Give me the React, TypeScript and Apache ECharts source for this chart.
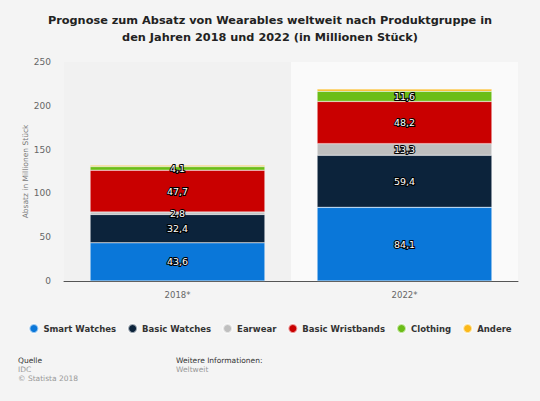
import React, { useEffect, useRef } from "react";
import * as echarts from "echarts";

const categories = ["2018*", "2022*"];
const smartWatches = [43.6, 84.1];
const basicWatches = [32.4, 59.4];
const earwear = [2.8, 13.3];
const basicWristbands = [47.7, 48.2];
const clothing = [4.1, 11.6];
const andere = [1.5, 2.5];
const yTicks = [0, 50, 100, 150, 200, 250];

const seriesDefs = [
  { name: "Smart Watches", data: smartWatches, color: "#0a77d9", label: true },
  { name: "Basic Watches", data: basicWatches, color: "#0c233b", label: true },
  { name: "Earwear", data: earwear, color: "#bfbfbf", label: true },
  { name: "Basic Wristbands", data: basicWristbands, color: "#c90000", label: true },
  { name: "Clothing", data: clothing, color: "#6bbd17", label: true },
  { name: "Andere", data: andere, color: "#fbb819", label: false },
];

const FONT = "DejaVu Sans, sans-serif";

export default function App() {
  const ref = useRef<HTMLDivElement>(null);
  useEffect(() => {
    if (!ref.current) return;
    const chart = echarts.init(ref.current, undefined, { renderer: "svg" });
    chart.setOption({
      animation: false,
      backgroundColor: "#f4f4f4",
      textStyle: { fontFamily: FONT },
      title: {
        text: "Prognose zum Absatz von Wearables weltweit nach Produktgruppe in\nden Jahren 2018 und 2022 (in Millionen Stück)",
        left: "center",
        top: 7,
        textStyle: { fontFamily: FONT, fontSize: 11.3, fontWeight: "bold", color: "#222", lineHeight: 17 },
      },
      legend: {
        top: 318,
        left: "center",
        icon: "circle",
        itemWidth: 9,
        itemHeight: 9,
        itemGap: 11,
        textStyle: { fontFamily: FONT, fontSize: 8.5, fontWeight: "bold", color: "#333" },
        data: seriesDefs.map((s) => s.name),
      },
      grid: { left: 64, right: 22, top: 62, bottom: 120 },
      xAxis: {
        type: "category",
        data: categories,
        axisLine: { lineStyle: { color: "#555", width: 1 } },
        axisTick: { show: false },
        axisLabel: { color: "#666", fontSize: 8.5, margin: 9, fontFamily: FONT },
        splitArea: { show: true, areaStyle: { color: ["#f1f1f1", "#fafafa"] } },
      },
      yAxis: {
        type: "value",
        min: 0,
        max: yTicks[yTicks.length - 1],
        interval: 50,
        name: "Absatz in Millionen Stück",
        nameLocation: "middle",
        nameGap: 35,
        nameMoveOverlap: false,
        nameTextStyle: { color: "#777", fontSize: 7.5, fontFamily: FONT },
        axisLine: { show: false },
        axisTick: { show: false },
        axisLabel: { color: "#666", fontSize: 9, margin: 13, fontFamily: FONT },
        splitLine: { lineStyle: { color: "#e6e6e6", width: 1 } },
      },
      series: seriesDefs.map((s) => ({
        name: s.name,
        type: "bar",
        stack: "total",
        data: s.data,
        barWidth: "77%",
        itemStyle: { color: s.color, borderColor: "rgba(255,255,255,0.6)", borderWidth: 0.5 },
        label: {
          show: s.label,
          position: "inside",
          formatter: (p: any) => String(p.value).replace(".", ","),
          color: "#fff",
          fontSize: 9.5,
          fontFamily: FONT,
          textBorderColor: "#000",
          textBorderWidth: 2,
        },
      })),
      graphic: [
        { type: "text", left: 18, top: 356, style: { text: "Quelle", fontSize: 7.5, fill: "#333", fontFamily: FONT } },
        { type: "text", left: 18, top: 365, style: { text: "IDC", fontSize: 7.5, fill: "#999", fontFamily: FONT } },
        { type: "text", left: 18, top: 374, style: { text: "© Statista 2018", fontSize: 7.5, fill: "#999", fontFamily: FONT } },
        { type: "text", left: 176, top: 356, style: { text: "Weitere Informationen:", fontSize: 7.5, fill: "#333", fontFamily: FONT } },
        { type: "text", left: 176, top: 365, style: { text: "Weltweit", fontSize: 7.5, fill: "#999", fontFamily: FONT } },
      ],
    });
    return () => chart.dispose();
  }, []);
  return <div ref={ref} style={{ width: 540, height: 401, position: "absolute", left: 0, top: 0 }} />;
}
